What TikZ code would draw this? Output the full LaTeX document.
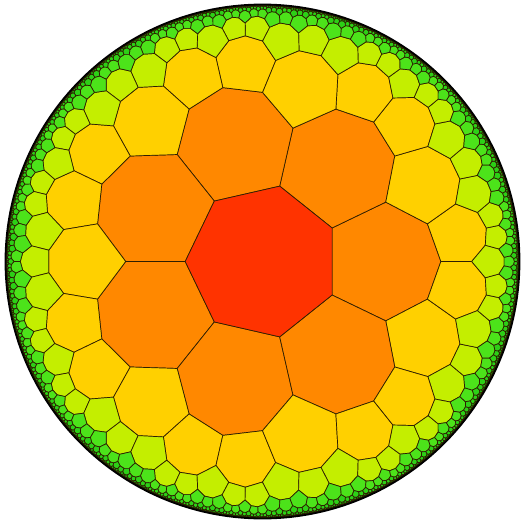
\documentclass[tikz,border=0pt]{standalone}
\definecolor{L0}{HTML}{FF3300}
\definecolor{L1}{HTML}{FF8800}
\definecolor{L2}{HTML}{FFD000}
\definecolor{L3}{HTML}{C4EE00}
\definecolor{L4}{HTML}{4CE31A}
\definecolor{L5}{HTML}{2CD016}
\definecolor{L6}{HTML}{20B012}
\definecolor{L7}{HTML}{189010}
\definecolor{edgecol}{HTML}{2E1E00}
\tikzset{tile/.style={draw=edgecol, line width=0.7pt, line join=round}}

\ExplSyntaxOn
\fp_new:N \l_hp_r_fp
\fp_new:N \l_hp_m_fp
\fp_new:N \l_hp_x_fp
\fp_new:N \l_hp_y_fp
\fp_new:N \l_hp_nr_fp
\fp_new:N \l_hp_ni_fp
\fp_new:N \l_hp_dr_fp
\fp_new:N \l_hp_di_fp
\fp_new:N \l_hp_q_fp
\tl_new:N \l_hp_path_tl
\tl_new:N \l_hp_cr_tl
\tl_new:N \l_hp_ci_tl
\tl_new:N \l_hp_dr_tl
\tl_new:N \l_hp_di_tl
\tl_new:N \g_hp_paths_tl
\fp_const:Nn \c_hp_R_fp {257}
\int_const:Nn \c_hp_max_int {7}

\fp_set:Nn \l_hp_r_fp { sqrt((cot(pi/7)*cot(pi/3)-1)/(cot(pi/7)*cot(pi/3)+1)) }
\fp_set:Nn \l_hp_m_fp { sqrt((cos(pi/3)/sin(pi/7)-1)/(cos(pi/3)/sin(pi/7)+1)) }

\int_step_inline:nnn {0}{6}
 {
  \fp_new:c {l_hp_vx#1_fp}
  \fp_new:c {l_hp_vy#1_fp}
  \fp_set:cn {l_hp_vx#1_fp} { \l_hp_r_fp * cos((2*#1+1)*pi/7) }
  \fp_set:cn {l_hp_vy#1_fp} { \l_hp_r_fp * sin((2*#1+1)*pi/7) }
  \tl_new:c {l_hp_M#1ar_tl}
  \tl_new:c {l_hp_M#1ai_tl}
  \tl_new:c {l_hp_M#1br_tl}
  \tl_new:c {l_hp_M#1bi_tl}
  \tl_set:cx {l_hp_M#1ar_tl} { \fp_eval:n { -(1+\l_hp_m_fp^2)*sin(#1*pi/7) } }
  \tl_set:cx {l_hp_M#1ai_tl} { \fp_eval:n { (1+\l_hp_m_fp^2)*cos(#1*pi/7) } }
  \tl_set:cx {l_hp_M#1br_tl} { \fp_eval:n { 2*\l_hp_m_fp*sin(#1*pi/7) } }
  \tl_set:cx {l_hp_M#1bi_tl} { \fp_eval:n { -2*\l_hp_m_fp*cos(#1*pi/7) } }
 }

\cs_new_protected:Npn \hp_emit:nnnnn #1#2#3#4#5
 {
  \tl_clear:N \l_hp_path_tl
  \int_step_inline:nnn {0}{6}
   {
    \fp_set:Nn \l_hp_x_fp { \fp_use:c {l_hp_vx##1_fp} }
    \fp_set:Nn \l_hp_y_fp { \fp_use:c {l_hp_vy##1_fp} }
    \fp_set:Nn \l_hp_nr_fp { (#1)*\l_hp_x_fp - (#2)*\l_hp_y_fp + (#3) }
    \fp_set:Nn \l_hp_ni_fp { (#1)*\l_hp_y_fp + (#2)*\l_hp_x_fp + (#4) }
    \fp_set:Nn \l_hp_dr_fp { (#3)*\l_hp_x_fp + (#4)*\l_hp_y_fp + (#1) }
    \fp_set:Nn \l_hp_di_fp { (#3)*\l_hp_y_fp - (#4)*\l_hp_x_fp - (#2) }
    \fp_set:Nn \l_hp_q_fp { \c_hp_R_fp / (\l_hp_dr_fp^2 + \l_hp_di_fp^2) }
    \tl_put_right:Nx \l_hp_path_tl
     {
      ( \fp_to_decimal:n { round( (\l_hp_nr_fp*\l_hp_dr_fp + \l_hp_ni_fp*\l_hp_di_fp)*\l_hp_q_fp , 3) } pt ,
        \fp_to_decimal:n { round( (\l_hp_ni_fp*\l_hp_dr_fp - \l_hp_nr_fp*\l_hp_di_fp)*\l_hp_q_fp , 3) } pt ) --
     }
   }
  \tl_gput_right:Nx \g_hp_paths_tl
   { \exp_not:N \path [tile,fill=L#5] \exp_not:V \l_hp_path_tl cycle ; }
 }

\cs_new_protected:Npn \hp_tile:nnnnnn #1#2#3#4#5#6 {}

\cs_new_protected:Npn \hp_child:nnnnnnn #1#2#3#4#5#6#7
 {
  \tl_set_eq:Nc \l_hp_cr_tl {l_hp_M#5ar_tl}
  \tl_set_eq:Nc \l_hp_ci_tl {l_hp_M#5ai_tl}
  \tl_set_eq:Nc \l_hp_dr_tl {l_hp_M#5br_tl}
  \tl_set_eq:Nc \l_hp_di_tl {l_hp_M#5bi_tl}
  \use:x
   {
    \exp_not:N \hp_tile:nnnnnn
     { \fp_eval:n { (#1)*(\l_hp_cr_tl) - (#2)*(\l_hp_ci_tl) + (#3)*(\l_hp_dr_tl) + (#4)*(\l_hp_di_tl) } }
     { \fp_eval:n { (#1)*(\l_hp_ci_tl) + (#2)*(\l_hp_cr_tl) + (#4)*(\l_hp_dr_tl) - (#3)*(\l_hp_di_tl) } }
     { \fp_eval:n { (#1)*(\l_hp_dr_tl) - (#2)*(\l_hp_di_tl) + (#3)*(\l_hp_cr_tl) + (#4)*(\l_hp_ci_tl) } }
     { \fp_eval:n { (#1)*(\l_hp_di_tl) + (#2)*(\l_hp_dr_tl) + (#4)*(\l_hp_cr_tl) - (#3)*(\l_hp_ci_tl) } }
     { \int_eval:n {#6+1} }
     {#7}
   }
 }

\cs_set_protected:Npn \hp_tile:nnnnnn #1#2#3#4#5#6
 {
  \hp_emit:nnnnn {#1}{#2}{#3}{#4}{#5}
  \int_compare:nNnT {#5} < {\c_hp_max_int}
   {
    \int_compare:nNnTF {#6} = {1}
     {
      \hp_child:nnnnnnn {#1}{#2}{#3}{#4}{2}{#5}{2}
      \hp_child:nnnnnnn {#1}{#2}{#3}{#4}{3}{#5}{1}
      \hp_child:nnnnnnn {#1}{#2}{#3}{#4}{4}{#5}{1}
     }
     {
      \hp_child:nnnnnnn {#1}{#2}{#3}{#4}{3}{#5}{2}
      \hp_child:nnnnnnn {#1}{#2}{#3}{#4}{4}{#5}{1}
     }
   }
 }

\use:x
 {
  \exp_not:N \hp_tile:nnnnnn
   { \tl_use:c {l_hp_M0ar_tl} }
   { \tl_use:c {l_hp_M0ai_tl} }
   { \tl_use:c {l_hp_M0br_tl} }
   { \tl_use:c {l_hp_M0bi_tl} }
   {1}{1}
 }

\cs_new:Npn \hpPaths { \tl_use:N \g_hp_paths_tl }
\cs_new:Npx \hpRzero { \fp_to_decimal:n { round(\c_hp_R_fp * \l_hp_r_fp, 3) } }
\ExplSyntaxOff

\begin{document}
\begin{tikzpicture}
\useasboundingbox (-262.5pt,-261.5pt) rectangle (259.5pt,261.5pt);
\foreach \k in {0,...,6} {
  \begin{scope}[rotate=\k*360/7]
    \hpPaths
  \end{scope}
}
\path[tile,fill=L0] (180/7:\hpRzero pt) -- (3*180/7:\hpRzero pt) -- (5*180/7:\hpRzero pt)
  -- (7*180/7:\hpRzero pt) -- (9*180/7:\hpRzero pt) -- (11*180/7:\hpRzero pt)
  -- (13*180/7:\hpRzero pt) -- cycle;
\draw[line width=1.8pt, black] (0,0) circle[radius=257pt];
\end{tikzpicture}
\end{document}
